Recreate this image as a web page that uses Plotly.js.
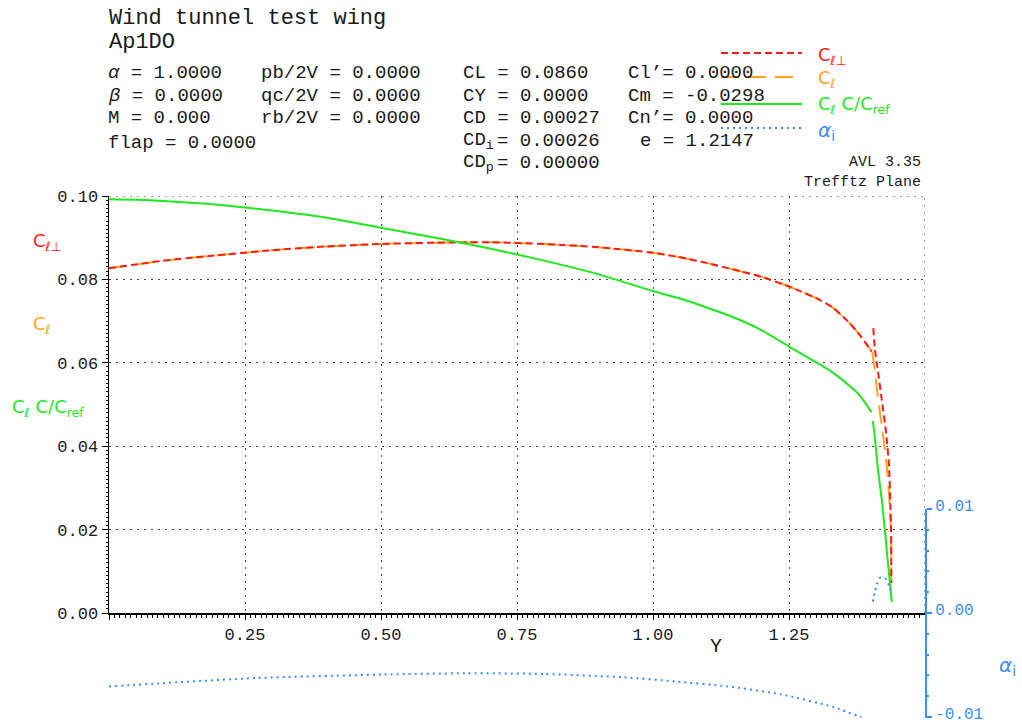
<!DOCTYPE html>
<html>
<head>
<meta charset="utf-8">
<script src="https://cdn.plot.ly/plotly-3.0.1.min.js"></script>
<style>html,body{margin:0;padding:0;background:#fff;}#chart{width:1022px;height:726px;}</style>
</head>
<body>
<div id="chart"></div>
<script>
// ---- data ----
const spanMain = [0, 0.05, 0.1, 0.2, 0.3, 0.4, 0.5, 0.6, 0.7, 0.8, 0.9, 1.0, 1.05, 1.1, 1.15, 1.2, 1.25, 1.3, 1.33, 1.36, 1.38, 1.402];
const clPerpMain = [0.0827, 0.0836, 0.0845, 0.0858, 0.0870, 0.0879, 0.0885, 0.0888, 0.0889, 0.0885, 0.0877, 0.0864, 0.0853, 0.0839, 0.0823, 0.0806, 0.0783, 0.0755, 0.0733, 0.0697, 0.0667, 0.0627];
const clMain     = [0.0827, 0.0836, 0.0845, 0.0858, 0.0870, 0.0879, 0.0885, 0.0888, 0.0889, 0.0885, 0.0877, 0.0864, 0.0853, 0.0839, 0.0823, 0.0806, 0.0783, 0.0755, 0.0733, 0.0697, 0.0667, 0.0627];
const clcMain    = [0.0992, 0.0991, 0.0988, 0.0979, 0.0965, 0.0948, 0.0924, 0.0900, 0.0874, 0.0845, 0.0812, 0.0772, 0.0754, 0.0732, 0.0708, 0.0678, 0.0639, 0.0601, 0.0577, 0.0546, 0.0522, 0.0481];

const spanTipPerp = [1.405, 1.408, 1.4125, 1.4206, 1.4285, 1.434, 1.436, 1.4377, 1.438];
const clPerpTip   = [0.0683, 0.0631, 0.0590, 0.0511, 0.0432, 0.0350, 0.0271, 0.0192, 0.0072];
const spanTipCl   = [1.403, 1.407, 1.414, 1.4224, 1.4298, 1.4346, 1.4377, 1.438];
const clTip       = [0.0626, 0.0590, 0.0511, 0.0432, 0.0350, 0.0271, 0.0192, 0.0072];
const spanTipClc  = [1.404, 1.407, 1.413, 1.4206, 1.4267, 1.4327, 1.439];
const clcTip      = [0.0460, 0.0432, 0.0350, 0.0271, 0.0192, 0.0110, 0.0026];

const spanAlphaMain = [0, 0.272, 0.503, 0.656, 0.801, 0.945, 1.041, 1.137, 1.234, 1.330, 1.397];
const alphaMain     = [-0.00706, -0.00625, -0.00592, -0.00579, -0.00586, -0.00618, -0.00658, -0.00706, -0.00781, -0.00902, -0.01032];
const spanAlphaTip  = [1.404, 1.408, 1.411, 1.417, 1.428, 1.4345, 1.439];
const alphaTip      = [0.00109, 0.00202, 0.00269, 0.00337, 0.00327, 0.00253, 0.00192];

const xTickVals = [0, 0.25, 0.5, 0.75, 1.0, 1.25, 1.5];
const xTickText = ['', '0.25', '0.50', '0.75', '1.00', '1.25', ''];
const yTickVals = [0, 0.02, 0.04, 0.06, 0.08, 0.10];
const yTickText = ['0.00', '0.02', '0.04', '0.06', '0.08', '0.10'];
const aTickVals = [-0.01, 0, 0.01];
const aTickText = ['-0.01', '0.00', '0.01'];
const xMax = 1.5, yMax = 0.10;

const RED = '#ff1a1a', ORANGE = '#ffa41c', GREEN = '#1ee81e', BLUE = '#3a8ff0';

function joinSeg(a, b) { return a.concat([null], b); }

const traces = [
  {x: joinSeg(spanMain, spanTipCl), y: joinSeg(clMain, clTip), name: 'Cl', mode: 'lines',
   line: {color: ORANGE, width: 2, dash: '18px,9px', shape: 'spline', smoothing: 0.5}, connectgaps: false},
  {x: joinSeg(spanMain, spanTipPerp), y: joinSeg(clPerpMain, clPerpTip), name: 'Cl perp', mode: 'lines',
   line: {color: RED, width: 2, dash: '7px,4px', shape: 'spline', smoothing: 0.5}, connectgaps: false},
  {x: joinSeg(spanMain, spanTipClc), y: joinSeg(clcMain, clcTip), name: 'Cl c/cref', mode: 'lines',
   line: {color: GREEN, width: 2, shape: 'spline', smoothing: 0.5}, connectgaps: false},
  {x: joinSeg(spanAlphaMain, spanAlphaTip), y: joinSeg(alphaMain, alphaTip), name: 'alpha_i', mode: 'lines',
   xaxis: 'x2', yaxis: 'y2', line: {color: BLUE, width: 2, dash: '2px,4px', shape: 'spline', smoothing: 0.6}, connectgaps: false}
];

// pixel -> paper helper for text placement
const L = 109, R = 925, T = 196, B = 726;
function px(x) { return (x - L) / (R - L); }
function py(y) { return (B - y) / (B - T); }

const MONO = 'Liberation Mono, DejaVu Sans Mono, monospace';
const SANS = 'DejaVu Sans, Liberation Sans, sans-serif';

function txt(x, y, text, opt) {
  opt = opt || {};
  return {xref: 'paper', yref: 'paper', x: px(x), y: py(y), text: text, showarrow: false,
    xanchor: opt.xa || 'left', yanchor: 'middle',
    font: {family: opt.family || MONO, size: opt.size || 19, color: opt.color || '#1a1a1a'}};
}

const annotations = [
  txt(107, 19, 'Wind tunnel test wing', {size: 22}),
  txt(107, 42, 'Ap1DO', {size: 22}),
  txt(106, 73, '<i>α</i> = 1.0000'),
  txt(106, 96, '<i>β</i> = 0.0000'),
  txt(106, 118, 'M = 0.000'),
  txt(106, 143, 'flap = 0.0000'),
  txt(259, 73, 'pb/2V = 0.0000'),
  txt(259, 96, 'qc/2V = 0.0000'),
  txt(259, 118, 'rb/2V = 0.0000'),
  txt(461, 73, 'CL = 0.0860'),
  txt(461, 96, 'CY = 0.0000'),
  txt(461, 118, 'CD = 0.00027'),
  txt(461, 141, 'CD<sub>i</sub>'),
  txt(495, 141, '= 0.00026'),
  txt(461, 163, 'CD<sub>p</sub>'),
  txt(495, 163, '= 0.00000'),
  txt(626, 73, 'Cl’= 0.0000'),
  txt(626, 96, 'Cm = -0.0298'),
  txt(626, 118, 'Cn’= 0.0000'),
  txt(638, 141, 'e = 1.2147'),
  txt(923, 163, 'AVL 3.35', {xa: 'right', size: 15}),
  txt(923, 182, 'Trefftz Plane', {xa: 'right', size: 15}),
  // legend labels
  txt(816, 56, 'C<sub><i>ℓ</i>⊥</sub>', {family: SANS, size: 18, color: RED}),
  txt(816, 79, 'C<sub><i>ℓ</i></sub>', {family: SANS, size: 18, color: ORANGE}),
  txt(816, 105, 'C<sub><i>ℓ</i></sub> C/C<sub>ref</sub>', {family: SANS, size: 18, color: GREEN}),
  txt(816, 131, '<i>α</i><sub>i</sub>', {family: SANS, size: 20, color: BLUE}),
  // axis-side labels
  txt(31, 242, 'C<sub><i>ℓ</i>⊥</sub>', {family: SANS, size: 18, color: RED}),
  txt(31, 325, 'C<sub><i>ℓ</i></sub>', {family: SANS, size: 18, color: ORANGE}),
  txt(10, 408, 'C<sub><i>ℓ</i></sub> C/C<sub>ref</sub>', {family: SANS, size: 18, color: GREEN}),
  txt(997, 666, '<i>α</i><sub>i</sub>', {family: SANS, size: 20, color: BLUE}),
  txt(716, 646, 'Y', {xa: 'center', size: 20})
];

function legLine(y, color, dash) {
  return {type: 'line', xref: 'paper', yref: 'paper', x0: px(721), x1: px(802), y0: py(y), y1: py(y),
    line: {color: color, width: 2, dash: dash}};
}
const GRIDDASH = '2px,5px';
const shapes = [
  legLine(53, RED, '7px,4px'),
  legLine(77, ORANGE, '18px,9px'),
  legLine(104, GREEN, 'solid'),
  legLine(128, BLUE, '2px,4px'),
  // frame grid lines at the top and right edges of the plot (dotted, like the grid)
  {type: 'line', xref: 'x', yref: 'y', x0: 0, x1: xMax, y0: yMax, y1: yMax, layer: 'below',
   line: {color: '#444', width: 1, dash: GRIDDASH}},
  {type: 'line', xref: 'x', yref: 'y', x0: xMax, x1: xMax, y0: 0, y1: yMax, layer: 'below',
   line: {color: '#444', width: 1, dash: GRIDDASH}}
];

const yDomLo = (B - 613) / (B - T);
const aDomLo = (B - 717.5) / (B - T);
const aDomHi = (B - 508.5) / (B - T);

const layout = {
  width: 1022, height: 726,
  margin: {l: L, r: 1022 - R, t: T, b: 0, pad: 0},
  paper_bgcolor: '#fff', plot_bgcolor: 'rgba(0,0,0,0)',
  showlegend: false,
  font: {family: MONO, size: 17, color: '#1a1a1a'},
  xaxis: {
    range: [0, xMax], tickvals: xTickVals, ticktext: xTickText,
    showgrid: true, gridcolor: '#444', gridwidth: 1, griddash: GRIDDASH,
    showline: true, linecolor: '#000', linewidth: 1.5, zeroline: false,
    ticks: 'outside', ticklen: 5, tickcolor: '#000', tickwidth: 1,
    minor: {dtick: 0.01, ticks: 'outside', ticklen: 3, tickcolor: '#000', showgrid: false},
    tickfont: {family: MONO, size: 17, color: '#1a1a1a'}, anchor: 'y'
  },
  xaxis2: {
    range: [0, xMax], anchor: 'y2', visible: false, showgrid: false, zeroline: false
  },
  yaxis: {
    domain: [yDomLo, 1], range: [0, yMax], tickvals: yTickVals, ticktext: yTickText,
    showgrid: true, gridcolor: '#444', gridwidth: 1, griddash: GRIDDASH,
    showline: true, linecolor: '#000', linewidth: 1.5, zeroline: false,
    ticks: 'outside', ticklen: 6, tickcolor: '#000',
    minor: {dtick: 0.001, ticks: 'outside', ticklen: 2, tickcolor: '#000', showgrid: false},
    tickfont: {family: MONO, size: 17, color: '#1a1a1a'}, anchor: 'x'
  },
  yaxis2: {
    domain: [aDomLo, aDomHi], range: [-0.01005, 0.01005], tickvals: aTickVals, ticktext: aTickText,
    anchor: 'x2', side: 'right', showgrid: false, zeroline: false,
    showline: true, linecolor: BLUE, linewidth: 2, ticklabeloverflow: 'allow', ticklabelshift: -4,
    ticks: 'outside', ticklen: 5, tickcolor: BLUE, tickwidth: 2,
    minor: {dtick: 0.002, ticks: 'outside', ticklen: 2, tickcolor: BLUE},
    tickfont: {family: MONO, size: 16, color: BLUE}
  },
  annotations: annotations,
  shapes: shapes
};

Plotly.newPlot('chart', traces, layout, {staticPlot: true, displayModeBar: false});
</script>
</body>
</html>
